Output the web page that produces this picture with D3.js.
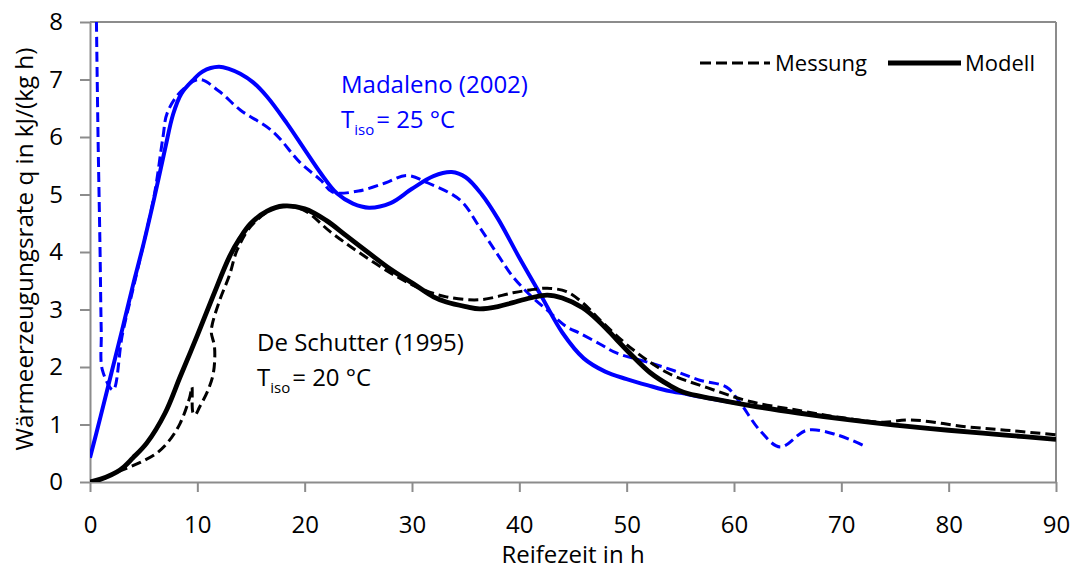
<!DOCTYPE html>
<html><head><meta charset="utf-8">
<script src="https://cdn.jsdelivr.net/npm/d3@7"></script>
<style>body{margin:0;background:#fff}svg{display:block}text{font-family:"Open Sans",sans-serif}</style>
</head><body><svg id="c" width="1073" height="569"></svg>
<script>
// ---- data ----
const xTicks = [0,10,20,30,40,50,60,70,80,90];
const yTicks = [0,1,2,3,4,5,6,7,8];
const madalenoModellX = [0,1,2,3,4,5,6,7,7.75,8.5,9.6,10.5,12,13,14,15.2,16.5,18.3,20,21.5,23,24.5,26,28,30,32,33.7,35,36.5,38,40,42,44,46,48,50,52,54,55,57,60];
const madalenoModellY = [0.42,1.15,1.9,2.65,3.42,4.15,4.95,5.8,6.4,6.75,6.99,7.14,7.22,7.18,7.1,6.95,6.7,6.25,5.78,5.37,5.02,4.84,4.77,4.85,5.1,5.32,5.39,5.3,5.0,4.58,3.9,3.25,2.6,2.15,1.92,1.79,1.68,1.58,1.55,1.48,1.38];
const madalenoMessX = [0.6,0.75,0.93,1.05,1.15,2.15,3,4,5,6,6.8,7.2,8.5,10.2,12,14,17,19.6,21.5,22.6,25,27.5,29.5,31.5,34.5,36.3,38,39.4,41,42.6,44.4,45.6,47.5,49.1,52.2,54.5,56.8,59.3,60.6,62.4,64.3,66.8,69.6,72];
const madalenoMessY = [8.0,6.0,4.1,2.6,1.95,1.6,2.55,3.35,4.15,5.0,6.0,6.42,6.8,7.0,6.8,6.47,6.1,5.55,5.25,5.04,5.06,5.2,5.33,5.2,4.9,4.43,3.95,3.57,3.25,2.99,2.7,2.59,2.4,2.24,2.07,1.93,1.77,1.65,1.37,0.9,0.61,0.9,0.82,0.64];
const schutterModellX = [0,1,2.8,4,5.3,7,8.4,10,11.5,13,14,15,16.5,18,20,22,23.9,26,28,30.1,32,33.2,35,36.3,38,39.4,41,42.6,44,45.9,47.5,49.1,50.5,52.2,54,55.3,58,61.5,66,70.8,75,80,85,90];
const schutterModellY = [0,0.05,0.21,0.42,0.68,1.2,1.83,2.55,3.25,3.92,4.25,4.5,4.71,4.8,4.75,4.55,4.28,3.98,3.7,3.45,3.22,3.13,3.05,3.01,3.05,3.12,3.2,3.25,3.2,3.03,2.78,2.47,2.2,1.9,1.68,1.56,1.45,1.33,1.2,1.08,0.99,0.9,0.82,0.74];
const schutterMessX = [0,1,2.2,3.7,5,6.2,7.3,8.4,9.3,9.5,9.6,9.8,10.2,11,11.5,11.6,11.3,11.4,12.1,13,13.7,15,17,18.2,20,22.4,25,28.6,31,33.2,36.3,39.4,41,42.6,44.4,46,47.5,50.6,53.8,57.5,61.5,66.2,70,73.9,76.4,81.7,86,90];
const schutterMessY = [0,0.03,0.15,0.26,0.37,0.5,0.7,1.02,1.48,1.65,1.2,1.17,1.3,1.6,1.9,2.35,2.6,2.75,3.17,3.6,4.03,4.45,4.75,4.8,4.72,4.35,4.0,3.57,3.35,3.22,3.17,3.29,3.34,3.37,3.31,3.1,2.82,2.3,1.9,1.64,1.4,1.24,1.12,1.04,1.08,0.96,0.89,0.82];

const svg = d3.select("#c");
const M = {l:90, r:1056, t:22, b:482};
const x = d3.scaleLinear().domain([0,90]).range([M.l,M.r]);
const y = d3.scaleLinear().domain([0,8]).range([M.b,M.t]);
const axisCol = "#8c8c8c";

// frame
svg.append("line").attr("x1",M.l).attr("x2",M.r).attr("y1",M.t).attr("y2",M.t).attr("stroke",axisCol).attr("stroke-width",2);
svg.append("line").attr("x1",M.r).attr("x2",M.r).attr("y1",M.t).attr("y2",M.b).attr("stroke",axisCol).attr("stroke-width",2);

const gx = svg.append("g").attr("transform",`translate(0,${M.b})`)
  .call(d3.axisBottom(x).tickValues(xTicks).tickSize(10).tickSizeOuter(0));
const gy = svg.append("g").attr("transform",`translate(${M.l},0)`)
  .call(d3.axisLeft(y).tickValues(yTicks).tickSize(10).tickPadding(17).tickSizeOuter(0));
[gx,gy].forEach(g=>{
  g.select(".domain").attr("stroke",axisCol).attr("stroke-width",2);
  g.selectAll(".tick line").attr("stroke",axisCol).attr("stroke-width",2);
  g.selectAll(".tick text").attr("fill","#000").style("font-size","24px").style("font-family","'Open Sans',sans-serif");
});
gx.selectAll(".tick text").attr("dy",null).attr("y",51);

svg.append("text").attr("x",(M.l+M.r)/2).attr("y",563).attr("text-anchor","middle")
  .style("font-size","24px").text("Reifezeit in h");
const yt = svg.append("text").attr("transform","translate(33,249) rotate(-90)").attr("text-anchor","middle")
  .style("font-size","20px").text("Wärmeerzeugungsrate q in kJ/(kg h)");
// fit the y title to the length it has in the reference
const len = yt.node().getComputedTextLength();
yt.style("font-size", (20*403/len).toFixed(2)+"px");

svg.append("clipPath").attr("id","pc").append("rect")
  .attr("x",M.l).attr("y",M.t).attr("width",M.r-M.l).attr("height",M.b-M.t);

function draw(xs, ys, color, width, dash){
  const pts = xs.map((v,i)=>[v,ys[i]]);
  const line = d3.line().x(d=>x(d[0])).y(d=>y(d[1])).curve(d3.curveCatmullRom.alpha(0.5));
  svg.append("path").datum(pts).attr("d",line).attr("fill","none").attr("stroke",color)
    .attr("stroke-width",width).attr("stroke-dasharray",dash||null).attr("clip-path","url(#pc)")
    .attr("stroke-linejoin","round");
}
const blue = "#0000ff";
draw(madalenoMessX, madalenoMessY, blue, 3, "10,5");
draw(madalenoModellX, madalenoModellY, blue, 4, null);
draw(schutterMessX, schutterMessY, "#000", 3, "10,5");
draw(schutterModellX, schutterModellY, "#000", 4.8, null);

// annotations
function anno(tx, ty, l1, temp, color){
  const g = svg.append("g").attr("fill",color).style("font-size","24px");
  g.append("text").attr("x",tx).attr("y",ty).text(l1);
  const t = g.append("text").attr("x",tx).attr("y",ty+35);
  t.append("tspan").text("T");
  t.append("tspan").attr("dy",7).style("font-size","15px").text("iso");
  t.append("tspan").attr("dy",-7).attr("dx",2).text("= " + temp + " °C");
}
anno(341, 93, "Madaleno (2002)", "25", blue);
anno(257, 351, "De Schutter (1995)", "20", "#000");

// legend
const lg = svg.append("g");
lg.append("line").attr("x1",700).attr("x2",770).attr("y1",63).attr("y2",63).attr("stroke","#000").attr("stroke-width",3).attr("stroke-dasharray","11,5");
lg.append("text").attr("x",775).attr("y",71).style("font-size","22px").text("Messung");
lg.append("line").attr("x1",888).attr("x2",961).attr("y1",63).attr("y2",63).attr("stroke","#000").attr("stroke-width",5);
lg.append("text").attr("x",965).attr("y",71).style("font-size","22px").text("Modell");
</script></body></html>
